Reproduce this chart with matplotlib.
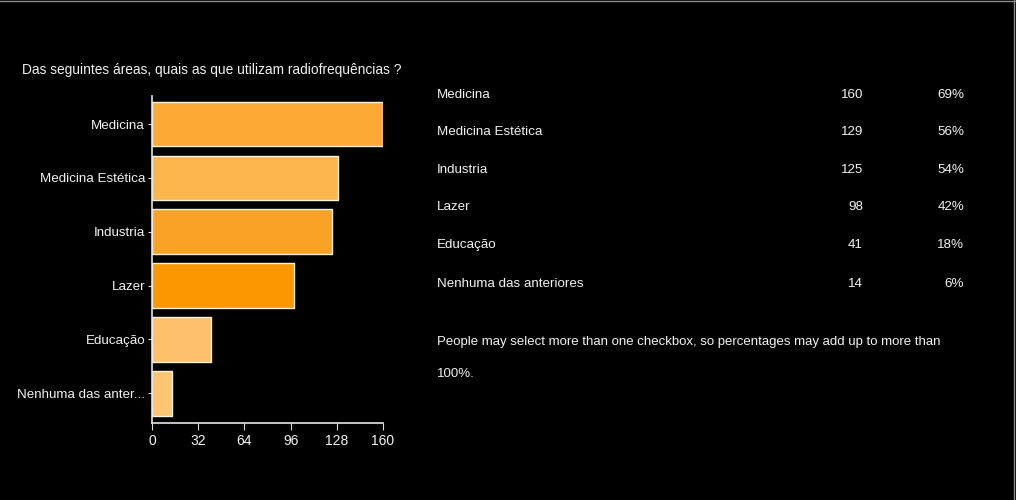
import numpy as np
import matplotlib
matplotlib.use('Agg')
import matplotlib.pyplot as plt

plt.rcParams['font.family'] = ['Liberation Sans Narrow', 'Liberation Sans', 'DejaVu Sans']

# data
categories = ['Medicina', 'Medicina Estética', 'Industria', 'Lazer', 'Educação', 'Nenhuma das anteriores']
short_labels = ['Medicina', 'Medicina Estética', 'Industria', 'Lazer', 'Educação', 'Nenhuma das anter...']
counts = [160, 129, 125, 98, 41, 14]
percents = ['69%', '56%', '54%', '42%', '18%', '6%']
bar_colors = ['#FCAA35', '#FDB54E', '#F9A226', '#FB9800', '#FDC06A', '#FDC471']
xticks = [0, 32, 64, 96, 128, 160]
title = 'Das seguintes áreas, quais as que utilizam radiofrequências ?'
note_lines = ['People may select more than one checkbox, so percentages may add up to more than',
              '100%.']

txt = '#f2f2f2'
fs = 9.6

fig = plt.figure(figsize=(10.16, 5.0), dpi=100, facecolor='black')
ax = fig.add_axes([0.1496, 0.154, 0.2274, 0.654])
ax.set_facecolor('black')

y = np.arange(len(categories))
ax.barh(y, counts, height=0.83, color=bar_colors, edgecolor='#fff3dc', linewidth=1.0)
ax.set_ylim(5.55, -0.52)
ax.set_xlim(0, 160)
ax.set_yticks(y)
ax.set_yticklabels(short_labels, color=txt, fontsize=fs)
ax.set_xticks(xticks)
ax.set_xticklabels([str(t) for t in xticks], color=txt, fontsize=10)
ax.tick_params(axis='y', length=3, color='#dddddd', pad=2)
ax.tick_params(axis='x', length=5, color='#dddddd', pad=3)
for s in ['top', 'right']:
    ax.spines[s].set_visible(False)
for s in ['left', 'bottom']:
    ax.spines[s].set_color('#e6e6e6')
    ax.spines[s].set_linewidth(1.2)

fig.text(22 / 1016, 1 - 70 / 500, title, color=txt, fontsize=9.9, va='center', ha='left')

# table on the right
row_y = [95, 132, 170, 207, 245, 284]
for i in range(len(categories)):
    yy = 1 - row_y[i] / 500
    fig.text(437 / 1016, yy, categories[i], color=txt, fontsize=fs, va='center', ha='left')
    fig.text(863 / 1016, yy, str(counts[i]), color=txt, fontsize=fs, va='center', ha='right')
    fig.text(964 / 1016, yy, percents[i], color=txt, fontsize=fs, va='center', ha='right')

note_y = [342, 374]
for line, ny in zip(note_lines, note_y):
    fig.text(437 / 1016, 1 - ny / 500, line, color=txt, fontsize=9.5, va='center', ha='left')

# thin frame lines at top and right
fig.add_artist(plt.Line2D([0, 1], [0.999, 0.999], color='#888888', lw=1, transform=fig.transFigure))
fig.add_artist(plt.Line2D([0.9985, 0.9985], [0, 1], color='#888888', lw=1, transform=fig.transFigure))

fig.savefig('out.png', dpi=100, facecolor='black')
